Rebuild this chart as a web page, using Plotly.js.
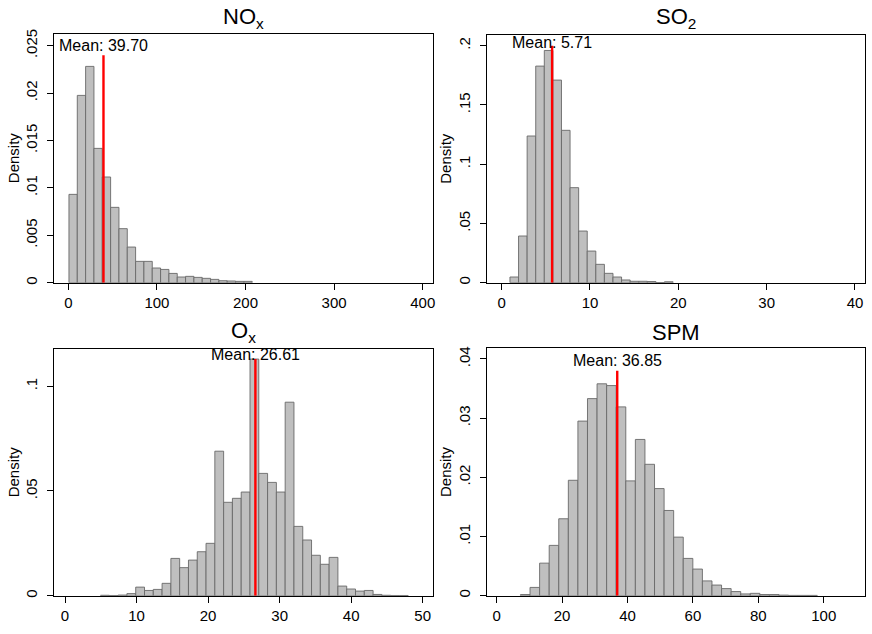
<!DOCTYPE html>
<html>
<head>
<meta charset="utf-8">
<script src="https://cdn.plot.ly/plotly-3.0.1.min.js"></script>
<style>
html, body { margin: 0; padding: 0; background: #fff; }
#chart { width: 872px; height: 634px; }
</style>
</head>
<body>
<div id="chart"></div>
<script>
// ---- Data ----
const panelTitles = ["NO<sub>x</sub>", "SO<sub>2</sub>", "O<sub>x</sub>", "SPM"];

// histogram bins: first edge and bin width
const noxBinStart = 0.75, noxBinWidth = 9.4;
const so2BinStart = 0.94, so2BinWidth = 0.972;
const oxBinStart = 4.964, oxBinWidth = 1.229;
const spmBinStart = 7.26, spmBinWidth = 2.928;

const noxDensity = [0.00932, 0.01976, 0.02282, 0.01417, 0.01115, 0.00795, 0.0057, 0.00376, 0.00225, 0.00225,
  0.00155, 0.0014, 0.00098, 0.0006, 0.00067, 0.00056, 0.00046, 0.00035, 0.00021, 0.00018, 0.00014, 0.00014];
const so2Density = [0.0048, 0.0394, 0.1238, 0.1828, 0.196, 0.171, 0.1286, 0.0802, 0.0436, 0.0267,
  0.0155, 0.0079, 0.0048, 0.0023, 0.0012, 0.0012, 0.001, 0.0001, 0.0008];
const oxDensity = [0.0002, 0.0001, 0.0003, 0.001, 0.0041, 0.0025, 0.003, 0.0059, 0.0178, 0.0134,
  0.017, 0.021, 0.025, 0.069, 0.0446, 0.0465, 0.0495, 0.113, 0.0584, 0.0541,
  0.0495, 0.0924, 0.0331, 0.0266, 0.0193, 0.015, 0.0183, 0.0046, 0.0032, 0.0022,
  0.0025, 0.0006, 0.0002, 0.0001, 0.0001];
const spmDensity = [0.0002, 0.0014, 0.0055, 0.0085, 0.013, 0.0195, 0.0295, 0.0333, 0.0358, 0.0355,
  0.0319, 0.0194, 0.0264, 0.0222, 0.0181, 0.0144, 0.0099, 0.0063, 0.0045, 0.0025,
  0.0018, 0.0012, 0.0007, 0.0003, 0.0004, 0.0002, 0.0002, 0.0001, 0.00005, 0.00005, 0.00005];

const meanValues = [39.70, 5.71, 26.61, 36.85];
const meanLabels = ["Mean: 39.70", "Mean: 5.71", "Mean: 26.61", "Mean: 36.85"];
const meanLineTop = [0.024, 0.2, 0.113, 0.038];
const meanLabelY = [0.025, 0.2025, 0.115, 0.0398];

const noxXTicks = [0, 100, 200, 300, 400];
const so2XTicks = [0, 10, 20, 30, 40];
const oxXTicks = [0, 10, 20, 30, 40, 50];
const spmXTicks = [0, 20, 40, 60, 80, 100];

const noxYTicks = [0, 0.005, 0.01, 0.015, 0.02, 0.025];
const noxYTickText = ["0", ".005", ".01", ".015", ".02", ".025"];
const so2YTicks = [0, 0.05, 0.1, 0.15, 0.2];
const so2YTickText = ["0", ".05", ".1", ".15", ".2"];
const oxYTicks = [0, 0.05, 0.1];
const oxYTickText = ["0", ".05", ".1"];
const spmYTicks = [0, 0.01, 0.02, 0.03, 0.04];
const spmYTickText = ["0", ".01", ".02", ".03", ".04"];

// ---- Layout geometry ----
const W = 872, H = 634;
const panels = [
  { dens: noxDensity, start: noxBinStart, width: noxBinWidth, xt: noxXTicks, yt: noxYTicks, ytt: noxYTickText,
    xr: [-15.8, 411.6], yr: [0, 0.02627], px: [54.3, 433], py: [33.7, 282.7], ty: 17.5 },
  { dens: so2Density, start: so2BinStart, width: so2BinWidth, xt: so2XTicks, yt: so2YTicks, ytt: so2YTickText,
    xr: [-1.66, 41.17], yr: [0, 0.2093], px: [487, 865.3], py: [34.7, 282.7], ty: 17.5 },
  { dens: oxDensity, start: oxBinStart, width: oxBinWidth, xt: oxXTicks, yt: oxYTicks, ytt: oxYTickText,
    xr: [-1.5, 51.48], yr: [0, 0.1178], px: [54.3, 433.3], py: [349, 595.7], ty: 332 },
  { dens: spmDensity, start: spmBinStart, width: spmBinWidth, xt: spmXTicks, yt: spmYTicks, ytt: spmYTickText,
    xr: [-2.97, 112.7], yr: [0, 0.0418], px: [487, 865.3], py: [348.3, 595.7], ty: 332 }
];

const fontFam = "Liberation Sans, Arial, Helvetica, sans-serif";
const traces = [];
const layout = {
  width: W, height: H,
  margin: { l: 0, r: 0, t: 0, b: 0 },
  paper_bgcolor: "#ffffff",
  plot_bgcolor: "#ffffff",
  showlegend: false,
  font: { family: fontFam, color: "#000", size: 15 },
  annotations: [],
  bargap: 0
};

panels.forEach((p, i) => {
  const n = i + 1;
  const xa = n === 1 ? "x" : "x" + n;
  const ya = n === 1 ? "y" : "y" + n;
  const centers = p.dens.map((_, k) => p.start + (k + 0.5) * p.width);
  traces.push({
    type: "bar", x: centers, y: p.dens, width: p.width,
    xaxis: xa, yaxis: ya,
    marker: { color: "rgb(191,191,191)", line: { color: "rgb(105,105,105)", width: 0.9 } },
    hoverinfo: "x+y"
  });
  traces.push({
    type: "scatter", mode: "lines",
    x: [meanValues[i], meanValues[i]], y: [0, meanLineTop[i]],
    xaxis: xa, yaxis: ya,
    line: { color: "#ff0000", width: 2.4 },
    hoverinfo: "skip"
  });
  const xkey = n === 1 ? "xaxis" : "xaxis" + n;
  const ykey = n === 1 ? "yaxis" : "yaxis" + n;
  layout[xkey] = {
    domain: [p.px[0] / W, p.px[1] / W],
    range: p.xr, anchor: ya,
    tickmode: "array", tickvals: p.xt, ticktext: p.xt.map(String),
    ticks: "outside", ticklen: 6, tickwidth: 1, tickcolor: "#000",
    showline: true, mirror: true, linecolor: "#000", linewidth: 1,
    showgrid: false, zeroline: false,
    tickfont: { size: 15, family: fontFam, color: "#000" }
  };
  layout[ykey] = {
    domain: [1 - p.py[1] / H, 1 - p.py[0] / H],
    range: p.yr, anchor: xa,
    tickmode: "array", tickvals: p.yt, ticktext: p.ytt,
    tickangle: -90,
    ticks: "outside", ticklen: 6, tickwidth: 1, tickcolor: "#000",
    showline: true, mirror: true, linecolor: "#000", linewidth: 1,
    showgrid: false, zeroline: false,
    ticklabelstandoff: 4,
    tickfont: { size: 15, family: fontFam, color: "#000" },
    title: { text: "Density", font: { size: 15, family: fontFam, color: "#000" }, standoff: 0 }
  };
  layout.annotations.push({
    xref: "paper", yref: "paper",
    x: (p.px[0] + p.px[1]) / 2 / W, y: 1 - p.ty / H,
    xanchor: "center", yanchor: "middle",
    text: panelTitles[i], showarrow: false,
    font: { size: 22, family: fontFam, color: "#000" }
  });
  layout.annotations.push({
    xref: xa, yref: ya,
    x: meanValues[i], y: meanLabelY[i],
    xanchor: "center", yanchor: "middle",
    text: meanLabels[i], showarrow: false,
    font: { size: 16, family: fontFam, color: "#000" }
  });
});

Plotly.newPlot("chart", traces, layout, { displayModeBar: false, staticPlot: true });
</script>
</body>
</html>
